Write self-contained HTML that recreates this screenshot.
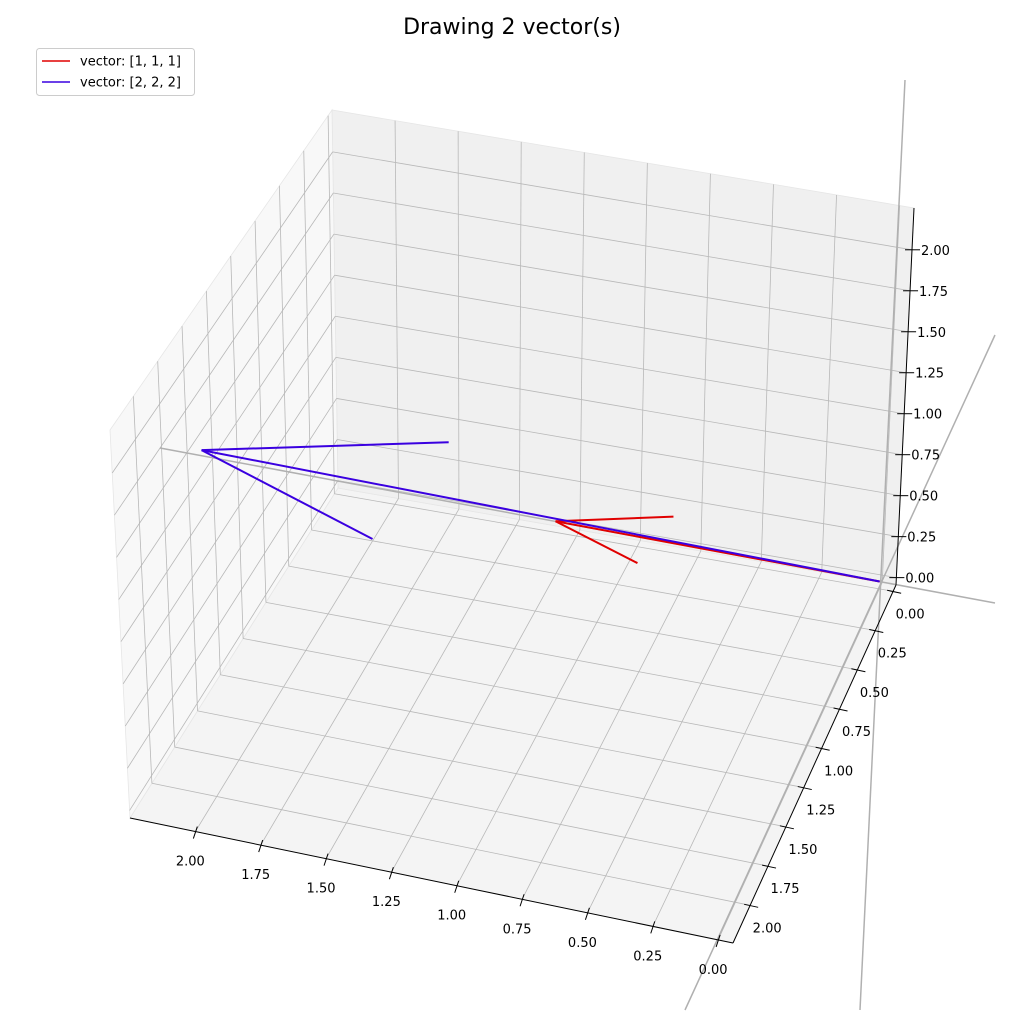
<!DOCTYPE html>
<html><head><meta charset="utf-8"><style>
html,body{margin:0;padding:0;background:#fff;}
svg{display:block;font-family:"DejaVu Sans","Liberation Sans",sans-serif;}
</style></head><body>
<svg id="chart" width="1024" height="1024" viewBox="0 0 1024 1024">
<text x="512" y="34" text-anchor="middle" font-size="22" fill="#000">Drawing 2 vector(s)</text>
<g id="panes"></g>
<g id="grid"></g>
<g id="extlines"></g>
<g id="axes"></g>
<g id="vectors"></g>
<g>
<rect x="36.5" y="48.5" width="158" height="47" rx="3" fill="#fff" stroke="#ccc"/>
<line x1="42" y1="61" x2="70" y2="61" stroke="#e00000" stroke-width="1.6"/>
<text x="80" y="65.5" font-size="13">vector: [1, 1, 1]</text>
<line x1="42" y1="82" x2="70" y2="82" stroke="#3a00e0" stroke-width="1.6"/>
<text x="80" y="86.5" font-size="13">vector: [2, 2, 2]</text>
</g>
</svg>
<script>
const vectorNames = ["vector: [1, 1, 1]", "vector: [2, 2, 2]"];
const vecX = [1, 2];
const vecY = [1, 2];
const vecZ = [1, 2];
const vecColors = ["#e00000", "#3a00e0"];
const tickValues = [0, 0.25, 0.5, 0.75, 1, 1.25, 1.5, 1.75, 2];
const tickLabels = ["0.00","0.25","0.50","0.75","1.00","1.25","1.50","1.75","2.00"];
const xLim = [-0.057, 2.25];
const yLim = [-0.04, 2.24];
const zLim = [-0.045, 2.255];

// screen corners of the axes box: c[xi][yi][zi]
const C = {
  "000":[896,585],"100":[338,488],"010":[733,943],"110":[130,818],
  "001":[914,208],"101":[332,110],"011":[725,528],"111":[110,430]
};
function P(x,y,z){
  const u=(x-xLim[0])/(xLim[1]-xLim[0]), v=(y-yLim[0])/(yLim[1]-yLim[0]), w=(z-zLim[0])/(zLim[1]-zLim[0]);
  const L=(a,b,t)=>[a[0]+(b[0]-a[0])*t,a[1]+(b[1]-a[1])*t];
  const b0=L(L(C["000"],C["100"],u),L(C["010"],C["110"],u),v);
  const b1=L(L(C["001"],C["101"],u),L(C["011"],C["111"],u),v);
  return L(b0,b1,w);
}
const NS="http://www.w3.org/2000/svg";
function mk(tag,parent,attrs){const e=document.createElementNS(NS,tag);for(const k in attrs)e.setAttribute(k,attrs[k]);parent.appendChild(e);return e;}
function line(parent,a,b,stroke,w,name){
  const e=mk("line",parent,{x1:a[0],y1:a[1],x2:b[0],y2:b[1],stroke:stroke,"stroke-width":w});
  
  
  return e;
}
const panes=document.getElementById("panes");
function pane(pts,fill,name){
  const e=mk("polygon",panes,{points:pts.map(p=>p.join(",")).join(" "),fill:fill,stroke:"#e6e6e6","stroke-width":0.8});
  
  
}
const X0=xLim[0],X1=xLim[1],Y0=yLim[0],Y1=yLim[1],Z0=zLim[0],Z1=zLim[1];
pane([P(X0,Y0,Z0),P(X1,Y0,Z0),P(X1,Y1,Z0),P(X0,Y1,Z0)],"#f4f4f4","floor-pane");
pane([P(X0,Y0,Z0),P(X1,Y0,Z0),P(X1,Y0,Z1),P(X0,Y0,Z1)],"#f0f0f0","back-pane");
pane([P(X1,Y0,Z0),P(X1,Y1,Z0),P(X1,Y1,Z1),P(X1,Y0,Z1)],"#f8f8f8","side-pane");

const grid=document.getElementById("grid");
const gc="#b8b8b8";
tickValues.forEach(t=>{
  line(grid,P(t,Y0,Z0),P(t,Y1,Z0),gc,0.8,"grid-floor-x");
  line(grid,P(X0,t,Z0),P(X1,t,Z0),gc,0.8,"grid-floor-y");
  line(grid,P(t,Y0,Z0),P(t,Y0,Z1),gc,0.8,"grid-back-x");
  line(grid,P(X0,Y0,t),P(X1,Y0,t),gc,0.8,"grid-back-z");
  line(grid,P(X1,t,Z0),P(X1,t,Z1),gc,0.8,"grid-side-y");
  line(grid,P(X1,Y0,t),P(X1,Y1,t),gc,0.8,"grid-side-z");
});

const ext=document.getElementById("extlines");
line(ext,[160,448],[995,603],"#b0b0b0",1.5,"x-axis-line");
line(ext,[905,80],[860,1010],"#b0b0b0",1.5,"z-axis-line");
line(ext,[995,335],[685,1010],"#b0b0b0",1.5,"y-axis-line");

const axes=document.getElementById("axes");
line(axes,P(X0,Y1,Z0),P(X1,Y1,Z0),"#000",1,"x-axis");
line(axes,P(X0,Y0,Z0),P(X0,Y1,Z0),"#000",1,"y-axis");
line(axes,P(X0,Y0,Z0),P(X0,Y0,Z1),"#000",1,"z-axis");
function label(x,y,txt,anchor,name){
  const e=mk("text",axes,{x:x,y:y,"font-size":13,"text-anchor":anchor,fill:"#000"});
  e.textContent=txt;
  
  
}
tickValues.forEach((t,i)=>{
  let p=P(t,Y1,Z0);
  line(axes,[p[0]+2,p[1]-5],[p[0]-2,p[1]+7],"#000",1,"x-tick");
  label(p[0]-5,p[1]+34,tickLabels[i],"middle","x-tick-label");
  p=P(X0,t,Z0);
  line(axes,[p[0]-6,p[1]-1],[p[0]+8,p[1]+2],"#000",1,"y-tick");
  label(p[0]+17,p[1]+27,tickLabels[i],"middle","y-tick-label");
  p=P(X0,Y0,t);
  line(axes,[p[0]-7,p[1]],[p[0]+8,p[1]],"#000",1,"z-tick");
  label(p[0]+9,p[1]+5,tickLabels[i],"start","z-tick-label");
});

const vg=document.getElementById("vectors");
const O=P(0,0,0);
vecX.forEach((vx,i)=>{
  const tip=P(vx,vecY[i],vecZ[i]);
  const col=vecColors[i];
  line(vg,O,tip,col,2,"vector-shaft-"+(i+1));
  const dx=O[0]-tip[0], dy=O[1]-tip[1], len=Math.hypot(dx,dy), ang=Math.atan2(dy,dx);
  const heads=[[0.358,-12.8],[0.279,16.5]];
  heads.forEach((h,j)=>{
    const a=ang+h[1]*Math.PI/180, l=len*h[0];
    line(vg,tip,[tip[0]+l*Math.cos(a),tip[1]+l*Math.sin(a)],col,2,"vector-head-"+(i+1)+"-"+(j+1));
  });
});
</script>
</body></html>
